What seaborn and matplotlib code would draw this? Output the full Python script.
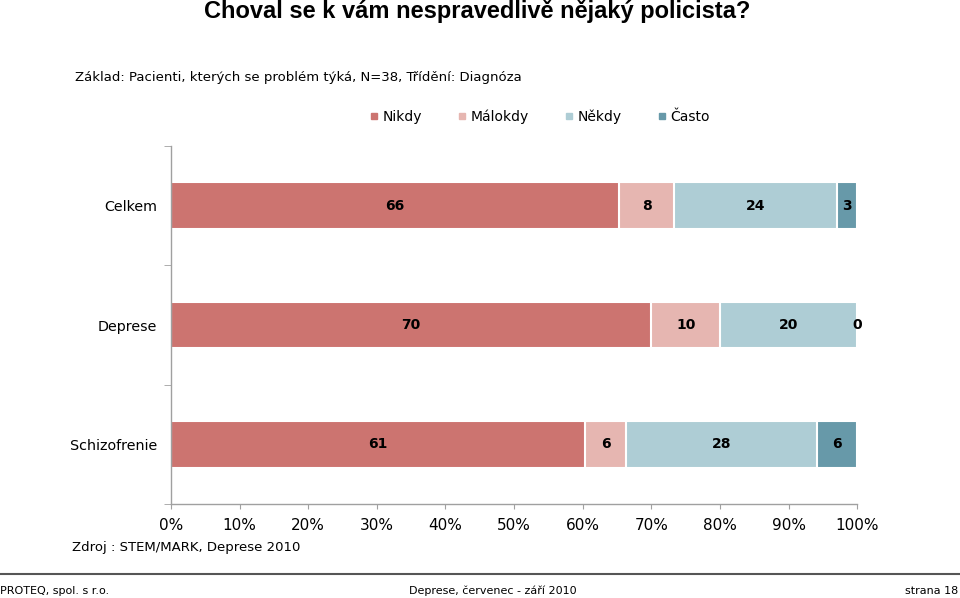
import numpy as np
import pandas as pd
import matplotlib
matplotlib.use("Agg")
import matplotlib.pyplot as plt
from matplotlib.lines import Line2D
import seaborn as sns

sns.set_style("white")
plt.rcParams["font.family"] = ["DejaVu Sans"]
plt.rcParams["text.color"] = "black"

# ------------------------------------------------------------------
# Data
# ------------------------------------------------------------------
categories = ["Celkem", "Deprese", "Schizofrenie"]
answers = ["Nikdy", "Málokdy", "Někdy", "Často"]
nikdy = [66, 70, 61]
malokdy = [8, 10, 6]
nekdy = [24, 20, 28]
casto = [3, 0, 6]
colors = ["#CC7470", "#E6B6B1", "#AECDD5", "#6799A9"]

df = pd.DataFrame({"Diagnoza": categories, "Nikdy": nikdy, "Málokdy": malokdy,
                   "Někdy": nekdy, "Často": casto})
totals = df[answers].sum(axis=1)
shares = df[answers].div(totals, axis=0)
cum = shares.cumsum(axis=1)

fig = plt.figure(figsize=(9.6, 5.98), dpi=100)
ax = fig.add_axes([0.178, 0.157, 0.715, 0.599])

# stacked bars: draw cumulative bars from the right-most segment down
for ans, col in zip(answers[::-1], colors[::-1]):
    sns.barplot(x=cum[ans].values, y=categories, order=categories, orient="h",
                color=col, width=0.39, edgecolor="white", linewidth=1.5,
                saturation=1, ax=ax)

# value labels centred in each segment
for i, cat in enumerate(categories):
    left = 0.0
    for ans in answers:
        w = shares.loc[i, ans]
        ax.text(left + w / 2, i, f"{df.loc[i, ans]}", ha="center", va="center",
                fontsize=10, fontweight="bold", color="black")
        left += w

ax.set_xlim(0, 1)
ax.set_ylim(2.5, -0.5)
ax.set_xlabel("")
ax.set_ylabel("")

xt = np.linspace(0, 1, 11)
ax.set_xticks(xt)
ax.set_xticklabels([f"{int(round(v * 100))}%" for v in xt], fontsize=11)
ax.tick_params(axis="x", direction="out", length=3.6, color="#A0A0A0", pad=6.5,
               bottom=True, labelcolor="black")

ax.set_yticks(range(len(categories)))
ax.set_yticklabels(categories, fontsize=10.3)
ax.tick_params(axis="y", length=0, pad=10, labelcolor="black")
ax.set_yticks([-0.5, 0.5, 1.5, 2.5], minor=True)
ax.tick_params(axis="y", which="minor", direction="out", length=5, color="#A0A0A0", left=True)

sns.despine(ax=ax, top=True, right=True)
for s in ["left", "bottom"]:
    ax.spines[s].set_color("#A0A0A0")
    ax.spines[s].set_linewidth(1)

# ------------------------------------------------------------------
# Texts, legend, footer
# ------------------------------------------------------------------
fig.text(0.497, 1 - 18 / 598, "Choval se k vám nespravedlivě nějaký policista?",
         ha="center", va="baseline", fontsize=17, fontweight="bold",
         family=["Liberation Sans Narrow", "Liberation Sans"])
fig.text(75 / 960, 1 - 78 / 598,
         "Základ: Pacienti, kterých se problém týká, N=38, Třídění: Diagnóza",
         ha="left", va="center", fontsize=9.5)

handles = [Line2D([0], [0], marker="s", linestyle="none", markersize=5,
                  markerfacecolor=c, markeredgecolor=c) for c in colors]
leg = fig.legend(handles, answers, loc="center", bbox_to_anchor=(540 / 960, 1 - 117 / 598),
                 ncol=4, frameon=False, fontsize=10, handlelength=0.6, handletextpad=0.3,
                 columnspacing=2.6)
for t in leg.get_texts():
    t.set_color("black")

fig.text(72 / 960, 1 - 547 / 598, "Zdroj : STEM/MARK, Deprese 2010",
         ha="left", va="center", fontsize=9.5)

fig.add_artist(Line2D([0, 1], [1 - 574 / 598] * 2, color="#555555", linewidth=1.5,
                      transform=fig.transFigure))
fig.text(0.0, 1 - 591 / 598, "PROTEQ, spol. s r.o.", ha="left", va="center", fontsize=8)
fig.text(493 / 960, 1 - 591 / 598, "Deprese, červenec - září 2010", ha="center",
         va="center", fontsize=8)
fig.text(0.998, 1 - 591 / 598, "strana 18", ha="right", va="center", fontsize=8)

fig.savefig("out.png", dpi=100)
plt.close(fig)
